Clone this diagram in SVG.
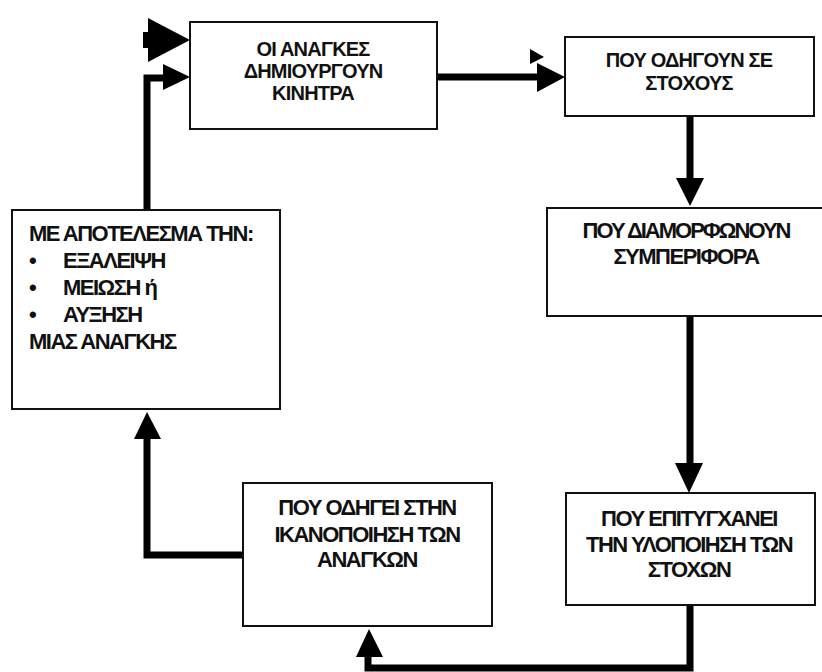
<svg xmlns="http://www.w3.org/2000/svg" width="822" height="672" viewBox="0 0 822 672">
<style>
.box{fill:#fff;stroke:#111;stroke-width:2}
.t{font-family:"Liberation Sans",Arial,sans-serif;font-weight:bold;font-size:22px;fill:#111;letter-spacing:-1.5px}
.s{font-size:20px;letter-spacing:-0.8px}
.c{text-anchor:middle}
.ln{fill:none;stroke:#000;stroke-width:7;stroke-linejoin:miter}
.ah{fill:#000}
</style>
<rect width="822" height="672" fill="#fff"/>
<g id="connectors">
  <rect x="143" y="32" width="8" height="16" class="ah"/>
  <polygon class="ah" points="148,18 190,40 148,62"/>
  <polyline class="ln" points="147,210 147,78 165,78"/>
  <polygon class="ah" points="163,64 190,77 163,90"/>
  <line class="ln" x1="437" y1="77" x2="539" y2="77"/>
  <polygon class="ah" points="537,63 565,77 537,92"/>
  <polygon class="ah" points="530,49 544,57 530,64"/>
  <line class="ln" x1="690" y1="116" x2="690" y2="180"/>
  <polygon class="ah" points="676,178 704,178 690,206"/>
  <line class="ln" x1="690" y1="316" x2="690" y2="465"/>
  <polygon class="ah" points="675,463 703,463 689,493"/>
  <polyline class="ln" points="690,605 690,668 368,668 368,655"/>
  <polygon class="ah" points="356,657 383,657 369,629"/>
  <polyline class="ln" points="243,555 147,555 147,437"/>
  <polygon class="ah" points="134,439 161,439 147,412"/>
</g>
<g id="node-anagkes">
  <rect class="box" x="190" y="22" width="247" height="107"/>
  <text class="t s c" x="313" y="56">ΟΙ ΑΝΑΓΚΕΣ</text>
  <text class="t s c" x="313" y="78">ΔΗΜΙΟΥΡΓΟΥΝ</text>
  <text class="t s c" x="313" y="100">ΚΙΝΗΤΡΑ</text>
</g>
<g id="node-stoxous">
  <rect class="box" x="565" y="37" width="249" height="79"/>
  <text class="t s c" x="689" y="67">ΠΟΥ ΟΔΗΓΟΥΝ ΣΕ</text>
  <text class="t s c" x="689" y="90">ΣΤΟΧΟΥΣ</text>
</g>
<g id="node-symperifora">
  <rect class="box" x="547" y="208" width="280" height="108"/>
  <text class="t c" x="686" y="238" style="letter-spacing:-2px">ΠΟΥ ΔΙΑΜΟΡΦΩΝΟΥΝ</text>
  <text class="t c" x="686" y="264">ΣΥΜΠΕΡΙΦΟΡΑ</text>
</g>
<g id="node-ylopoiisi">
  <rect class="box" x="566" y="493" width="249" height="112"/>
  <text class="t c" x="689" y="526">ΠΟΥ ΕΠΙΤΥΓΧΑΝΕΙ</text>
  <text class="t c" x="689" y="552">ΤΗΝ ΥΛΟΠΟΙΗΣΗ ΤΩΝ</text>
  <text class="t c" x="689" y="577">ΣΤΟΧΩΝ</text>
</g>
<g id="node-ikanopoiisi">
  <rect class="box" x="243" y="483" width="249" height="143"/>
  <text class="t c" x="367" y="515">ΠΟΥ ΟΔΗΓΕΙ ΣΤΗΝ</text>
  <text class="t c" x="367" y="542">ΙΚΑΝΟΠΟΙΗΣΗ ΤΩΝ</text>
  <text class="t c" x="367" y="567">ΑΝΑΓΚΩΝ</text>
</g>
<g id="node-apotelesma">
  <rect class="box" x="12" y="210" width="268" height="199"/>
  <text class="t" x="29" y="241">ΜΕ ΑΠΟΤΕΛΕΣΜΑ ΤΗΝ:</text>
  <text class="t" x="29" y="268">•</text>
  <text class="t" x="63" y="268">ΕΞΑΛΕΙΨΗ</text>
  <text class="t" x="29" y="295">•</text>
  <text class="t" x="63" y="295">ΜΕΙΩΣΗ ή</text>
  <text class="t" x="29" y="322">•</text>
  <text class="t" x="63" y="322">ΑΥΞΗΣΗ</text>
  <text class="t" x="29" y="349">ΜΙΑΣ ΑΝΑΓΚΗΣ</text>
</g>
</svg>
